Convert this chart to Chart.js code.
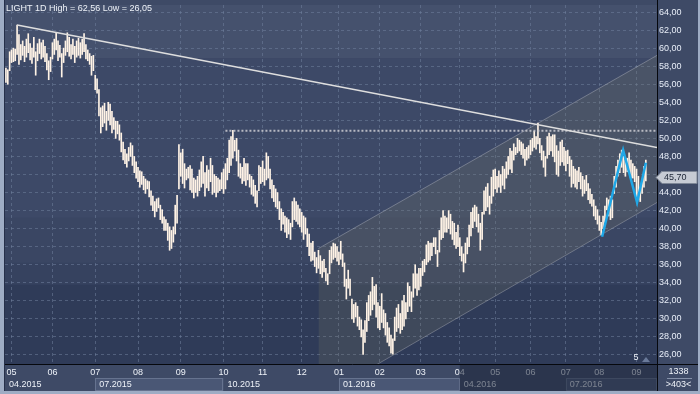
<!DOCTYPE html>
<html>
<head>
<meta charset="utf-8">
<script src="https://cdn.jsdelivr.net/npm/chart.js@4.4.1/dist/chart.umd.min.js"></script>
<style>
  html, body { margin: 0; padding: 0; background: #3e4a66; }
  canvas { display: block; }
</style>
</head>
<body>
<canvas id="myChart" width="700" height="394"></canvas>
<script>
var title = 'LIGHT 1D High = 62,56 Low = 26,05';

// daily bars, low / high
var lows = [
    56.2,56.0,57.5,58.4,58.5,58.6,59.3,58.2,58.7,59.2,
    58.5,59.0,59.5,58.7,58.3,59.0,57.0,58.6,59.4,58.8,
    59.0,58.5,57.6,56.5,57.4,58.8,59.3,59.8,58.6,59.0,
    56.8,58.4,59.2,59.6,59.1,58.8,59.3,58.4,59.0,59.2,
    58.9,59.3,59.6,58.8,58.6,58.2,57.0,57.5,55.4,55.0,
    52.5,50.6,51.3,51.7,50.9,52.0,51.5,50.6,51.0,50.0,
    50.5,49.8,48.5,47.6,47.2,46.8,47.5,48.0,47.0,46.2,
    45.6,45.2,44.6,44.9,44.3,43.9,44.4,43.5,42.6,42.0,
    41.3,41.9,42.3,41.0,40.6,39.8,39.8,38.7,37.6,37.8,
    38.5,39.4,40.6,44.4,45.8,45.0,44.5,45.4,45.6,44.3,
    44.0,43.4,44.0,43.6,44.2,44.6,45.0,43.6,44.5,44.2,
    45.2,43.8,44.0,43.5,44.0,44.2,44.4,43.9,44.4,45.4,
    46.2,47.0,47.8,48.6,47.5,45.8,45.6,45.0,45.3,44.8,
    45.4,44.6,43.8,43.6,42.8,42.4,44.2,45.0,45.2,44.8,
    45.4,45.6,44.4,43.4,43.0,42.4,42.2,41.0,39.8,40.5,
    39.6,39.0,39.4,38.8,40.2,41.0,40.8,40.5,40.2,39.6,
    38.8,39.4,38.0,37.0,36.4,36.5,35.8,35.1,35.6,35.0,
    34.6,35.2,34.2,33.8,35.0,36.2,36.6,36.8,36.4,36.0,
    36.6,35.8,33.6,32.2,33.4,32.6,30.0,29.6,30.2,29.2,
    28.8,28.0,26.05,27.4,28.6,29.8,30.4,31.0,31.6,30.2,
    29.0,28.8,29.6,29.0,28.2,27.4,27.0,26.2,26.1,27.6,
    28.6,29.0,28.4,28.8,29.2,30.0,30.8,31.4,30.8,32.4,
    33.4,32.6,33.2,33.6,34.8,35.2,36.0,36.3,36.5,37.0,
    38.0,37.2,35.8,37.4,38.8,39.0,39.6,39.6,40.0,39.4,
    38.8,38.2,37.8,38.0,37.0,36.4,35.2,36.2,37.2,38.0,
    39.2,40.1,40.8,40.2,39.6,37.6,38.8,41.6,42.0,42.4,
    41.6,42.8,43.6,44.4,44.0,44.6,44.0,44.8,44.4,45.6,
    46.0,46.6,46.2,47.6,48.2,48.4,48.6,48.2,47.8,47.0,
    47.6,47.8,48.2,48.6,49.0,48.8,49.4,48.4,47.6,46.8,
    45.8,47.8,48.2,48.6,48.0,47.4,46.0,45.8,47.0,47.4,
    47.0,46.4,47.2,45.8,44.6,45.0,44.6,44.4,45.2,44.4,
    43.6,43.9,44.2,43.2,42.8,42.5,41.4,41.0,40.5,39.8,
    39.3,40.0,40.7,42.1,41.4,41.0,41.2,43.9,44.6,45.8,
    46.2,46.8,46.2,45.8,46.3,46.3,45.5,45.6,45.2,43.5,
    43.2,43.0,43.9,44.6,45.3
];
var highs = [
    57.8,57.6,59.6,59.8,60.0,59.9,62.56,61.5,60.4,60.8,
    60.2,61.0,61.6,60.5,60.0,61.2,59.6,60.5,61.0,60.6,
    60.9,60.2,59.4,58.6,59.0,60.6,61.0,61.7,60.8,60.3,
    59.4,60.0,60.8,61.7,61.2,60.4,61.0,60.2,60.8,61.1,
    60.6,61.0,61.6,60.4,59.8,59.4,59.1,59.2,57.0,56.6,
    55.4,53.4,53.6,53.9,53.0,54.0,53.8,53.0,52.3,51.9,
    51.9,51.5,50.6,49.6,48.8,48.3,49.0,49.5,49.2,48.0,
    47.4,46.8,46.4,46.3,45.8,45.5,45.3,45.2,44.2,43.6,
    43.0,43.3,43.4,42.6,42.1,41.3,41.0,40.6,40.2,39.8,
    40.2,42.6,43.7,49.3,48.4,48.8,47.2,46.6,46.8,47.0,
    46.6,45.6,45.4,45.8,46.5,47.4,48.0,46.2,47.0,46.5,
    47.8,47.0,46.0,45.8,45.6,45.4,46.2,46.6,47.2,47.8,
    49.8,50.2,50.9,49.8,50.0,48.7,47.2,46.8,47.8,47.2,
    47.2,46.0,45.8,45.4,44.8,44.2,47.0,46.8,47.5,46.6,
    48.4,48.0,46.6,45.4,44.8,44.4,44.0,43.0,42.2,41.8,
    41.4,41.2,41.0,40.6,43.0,43.4,43.0,42.6,42.2,41.8,
    41.4,41.2,40.0,39.4,38.4,38.6,37.4,36.8,37.6,37.0,
    36.4,36.6,35.6,35.0,37.6,38.0,38.4,38.3,38.0,37.4,
    38.6,37.2,36.2,34.4,35.4,34.4,32.2,31.6,31.8,31.4,
    30.2,29.9,28.8,29.8,31.8,32.6,33.0,34.6,33.6,33.8,
    31.8,31.4,32.8,31.0,30.6,29.6,29.0,28.2,27.8,30.2,
    31.2,31.6,30.6,32.0,32.6,31.8,34.0,33.6,33.0,35.0,
    36.0,35.0,35.6,35.6,36.4,36.6,38.2,38.6,38.4,38.4,
    39.0,39.0,37.6,39.8,41.2,42.0,41.4,41.2,42.0,41.6,
    40.8,40.6,39.6,40.4,39.0,38.0,37.2,38.4,39.0,40.4,
    41.8,42.3,42.6,42.4,41.6,40.6,41.8,44.2,44.6,45.0,
    43.6,45.7,46.5,46.6,45.8,46.4,46.0,46.9,46.6,47.4,
    48.0,48.9,48.6,49.4,49.0,50.0,49.8,49.6,49.4,48.8,
    49.0,49.2,49.8,50.0,50.8,50.2,51.7,50.0,49.2,48.6,
    48.0,50.2,50.6,50.2,50.4,50.4,49.2,48.6,49.6,49.8,
    49.0,48.6,48.7,48.0,47.6,46.9,46.6,46.4,46.8,46.2,
    45.8,45.4,45.9,45.0,44.4,43.8,43.2,42.5,42.1,41.4,
    40.7,41.4,42.5,43.4,43.2,43.6,43.2,45.8,46.9,47.6,
    48.3,48.7,48.0,47.6,47.8,48.4,47.6,47.2,46.9,46.6,
    45.8,44.6,45.4,46.9,47.6
];
var lastPrice = 45.70;

// month starts (bar index) and labels
var monthTicks = [3, 25, 48, 71, 94, 117, 138, 159, 179, 201, 223, 244, 263, 282, 301, 319, 339];
var monthLabels = ['05','06','07','08','09','10','11','12','01','02','03','04','05','06','07','08','09'];
var quarterStarts = [-0.5, 48, 117, 179, 244, 301];
var quarterLabels = ['04.2015','07.2015','10.2015','01.2016','04.2016','07.2016'];
var yTicks = [26,28,30,32,34,36,38,40,42,44,46,48,50,52,54,56,58,60,62,64];

// drawn objects, [bar index, price]
var trendLine = [[6, 62.56], [350, 49.0]];
var levelLine = [[118, 50.85], [350, 50.85]];
var channelTop = [[168, 37.8], [350, 59.2]];
var channelBottom = [[168, 21.2], [350, 42.9]];
var wave = [[320.5, 39.1], [331.8, 48.7], [339.3, 42.9], [344, 47.3]];

var barsTotal = '1338';
var barsShown = '>403<';
var waveCount = '5';

var FONT = '"Liberation Sans", Arial, sans-serif';

function toPts(arr) {
    return arr.map(function(p) { return {x: p[0], y: p[1]}; });
}

var bars = lows.map(function(lo, i) { return {x: i, y: [lo, highs[i]]}; });

var panel = {
    id: 'panel',
    beforeDraw: function(chart) {
        var ctx = chart.ctx, a = chart.chartArea, ys = chart.scales.y;
        ctx.save();
        ctx.fillStyle = '#3e4a66';
        ctx.fillRect(0, 0, chart.width, chart.height);
        var edges = [ys.max, 58.9, 41.2, 36.2, 33.8, ys.min];
        var cols = ['#45516d', '#3d4967', '#3a4663', '#36425f', '#2f3b58'];
        for (var k = 0; k < cols.length; k++) {
            var t = ys.getPixelForValue(edges[k]);
            var b = ys.getPixelForValue(edges[k + 1]);
            ctx.fillStyle = cols[k];
            ctx.fillRect(a.left, t, a.right - a.left, b - t);
        }
        ctx.restore();
    },
    afterDraw: function(chart) {
        var ctx = chart.ctx, a = chart.chartArea, xs = chart.scales.x, ys = chart.scales.y;
        var W = chart.width, H = chart.height;
        ctx.save();
        ctx.font = '9px ' + FONT;
        ctx.textBaseline = 'middle';

        // quarter row
        for (var k = 0; k < quarterLabels.length; k++) {
            var x0 = Math.max(a.left, xs.getPixelForValue(quarterStarts[k]));
            var x1 = k + 1 < quarterStarts.length ? xs.getPixelForValue(quarterStarts[k + 1]) : a.right;
            if (k % 2 == 1) {
                ctx.fillStyle = '#4a5775';
                ctx.fillRect(x0, a.bottom + 14, x1 - x0, 13);
                ctx.strokeStyle = '#66738f';
                ctx.lineWidth = 1;
                ctx.strokeRect(Math.round(x0) + 0.5, a.bottom + 14.5, Math.round(x1 - x0) - 1, 12);
            }
            ctx.fillStyle = '#eef2f8';
            ctx.textAlign = 'left';
            ctx.fillText(quarterLabels[k], x0 + 4, a.bottom + 21);
        }
        // dimmed part of time axis
        var xf = xs.getPixelForValue(quarterStarts[4]);
        ctx.fillStyle = 'rgba(28,36,56,0.55)';
        ctx.fillRect(xf, a.bottom + 1, a.right - xf, H - a.bottom - 4);

        // axis borders
        ctx.strokeStyle = '#06080d';
        ctx.lineWidth = 1;
        ctx.beginPath();
        ctx.moveTo(a.right + 0.5, 0);
        ctx.lineTo(a.right + 0.5, H);
        ctx.moveTo(a.left, a.bottom + 0.5);
        ctx.lineTo(W, a.bottom + 0.5);
        ctx.stroke();

        // bar counters
        ctx.fillStyle = '#eef2f8';
        ctx.textAlign = 'center';
        ctx.fillText(barsTotal, (a.right + W) / 2, a.bottom + 8);
        ctx.fillText(barsShown, (a.right + W) / 2, a.bottom + 21);
        ctx.strokeStyle = '#8490a8';
        ctx.beginPath();
        ctx.moveTo(a.right + 10, a.bottom + 14.5);
        ctx.lineTo(W - 8, a.bottom + 14.5);
        ctx.stroke();

        // wave count marker
        ctx.fillText(waveCount, 636, a.bottom - 6);
        ctx.fillStyle = '#6a7a9a';
        ctx.beginPath();
        ctx.moveTo(642, a.bottom - 2);
        ctx.lineTo(650, a.bottom - 2);
        ctx.lineTo(646, a.bottom - 7);
        ctx.closePath();
        ctx.fill();

        // last price tag
        var py = Math.round(ys.getPixelForValue(lastPrice)) + 0.5;
        ctx.beginPath();
        ctx.moveTo(a.right - 1, py);
        ctx.lineTo(a.right + 5, py - 6);
        ctx.lineTo(W - 3, py - 6);
        ctx.lineTo(W - 3, py + 6);
        ctx.lineTo(a.right + 5, py + 6);
        ctx.closePath();
        ctx.fillStyle = '#c6cbd4';
        ctx.fill();
        ctx.strokeStyle = '#7d8696';
        ctx.stroke();
        ctx.fillStyle = '#1c2535';
        ctx.textAlign = 'left';
        ctx.fillText(lastPrice.toFixed(2).replace('.', ','), a.right + 7, py);

        // title
        ctx.fillStyle = '#eef2f8';
        ctx.fillText(title, a.left + 1, a.top + 4);

        // window frame
        ctx.fillStyle = '#9eacc4';
        ctx.fillRect(0, 0, 4, H);
        ctx.fillRect(0, H - 3, W, 3);
        ctx.fillRect(W - 2, 0, 2, H);
        ctx.fillStyle = '#26304a';
        ctx.fillRect(4, 0, 1, H - 3);
        ctx.restore();
    }
};

var gridColor = 'rgba(112,128,156,0.55)';

var ctx = document.getElementById('myChart').getContext('2d');
var myChart = new Chart(ctx, {
    type: 'line',
    data: {
        datasets: [{
            data: toPts(trendLine),
            borderColor: '#dedede',
            borderWidth: 1.5,
            pointRadius: 0,
            order: 0
        }, {
            data: toPts(levelLine),
            borderColor: 'rgba(205,205,212,0.85)',
            borderWidth: 2,
            borderDash: [2, 2],
            pointRadius: 0,
            order: 0
        }, {
            data: toPts(wave),
            borderColor: '#1fa8e8',
            borderWidth: 2.5,
            pointRadius: 0,
            order: 0
        }, {
            type: 'bar',
            data: bars,
            backgroundColor: '#fff3e6',
            barThickness: 1,
            order: 1
        }, {
            data: toPts(channelTop),
            borderColor: 'rgba(175,180,190,0.45)',
            borderWidth: 1,
            pointRadius: 0,
            fill: '+1',
            backgroundColor: 'rgba(125,125,105,0.22)',
            order: 2
        }, {
            data: toPts(channelBottom),
            borderColor: 'rgba(175,180,190,0.45)',
            borderWidth: 1,
            pointRadius: 0,
            fill: false,
            order: 2
        }]
    },
    options: {
        responsive: false,
        animation: false,
        devicePixelRatio: 1,
        events: [],
        layout: { padding: { left: 5, top: 5, right: 0, bottom: 0 } },
        plugins: {
            legend: { display: false },
            tooltip: { enabled: false }
        },
        scales: {
            x: {
                type: 'linear',
                min: -0.5,
                max: 350,
                offset: false,
                afterBuildTicks: function(s) {
                    s.ticks = monthTicks.map(function(v) { return {value: v}; });
                },
                afterFit: function(s) {
                    s.height = 30;
                    s.paddingLeft = 0;
                    s.paddingRight = 0;
                },
                grid: { color: gridColor, drawTicks: false, offset: false },
                border: { display: false, dash: [3, 3] },
                ticks: {
                    autoSkip: false,
                    maxRotation: 0,
                    padding: 3,
                    color: '#eef2f8',
                    font: { family: FONT, size: 9 },
                    callback: function(v, i) { return monthLabels[i]; }
                }
            },
            y: {
                type: 'linear',
                position: 'right',
                min: 25,
                max: 64.78,
                beginAtZero: false,
                afterBuildTicks: function(s) {
                    s.ticks = yTicks.map(function(v) { return {value: v}; });
                },
                afterFit: function(s) {
                    s.width = 43;
                    s.paddingTop = 0;
                    s.paddingBottom = 0;
                },
                grid: { color: gridColor, drawTicks: false },
                border: { display: false, dash: [3, 3] },
                ticks: {
                    padding: 2,
                    color: '#e8eef8',
                    font: { family: FONT, size: 9 },
                    callback: function(v) { return v.toFixed(2).replace('.', ','); }
                }
            }
        }
    },
    plugins: [panel]
});
</script>
</body>
</html>
